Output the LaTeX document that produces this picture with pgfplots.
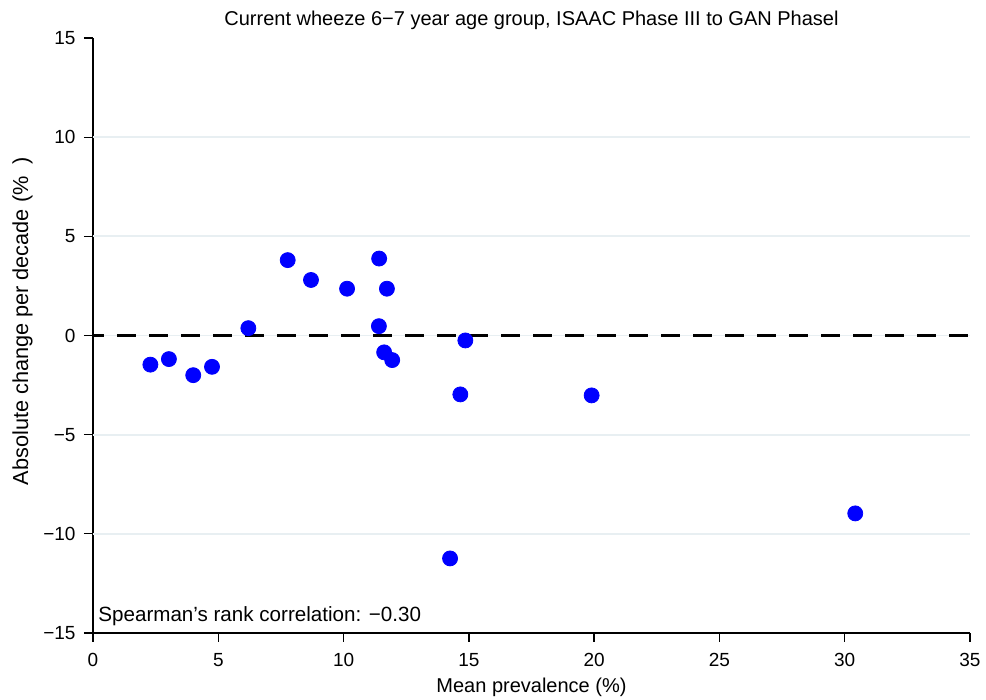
\documentclass[border=0pt]{standalone}
\usepackage{fontspec}
\setmainfont{Liberation Sans}
\usepackage{pgfplots}
\pgfplotsset{compat=1.18}
\definecolor{gridc}{RGB}{232,239,242}
\begin{document}
\begin{tikzpicture}
\path[use as bounding box] (-46.5pt,-33.5pt) rectangle (446.5pt,316.5pt);
\begin{axis}[
  at={(0,0)}, anchor=south west, scale only axis,
  width=438.5pt, height=297.5pt,
  xmin=0, xmax=35, ymin=-15, ymax=15,
  axis lines=left,
  axis line style={-, black, line width=0.65pt},
  xtick={0,5,...,35}, xticklabels={0,5,10,15,20,25,30,35},
  ytick={-15,-10,...,15}, yticklabels={−15,−10,−5,0,5,10,15},
  tick align=outside, major tick length=4.5pt,
  tick style={black, line width=0.65pt},
  xticklabel style={font=\fontsize{9.5}{11}\selectfont, yshift=-2pt},
  yticklabel style={font=\fontsize{9.5}{11}\selectfont, xshift=-0.7pt},
  extra y ticks={-10,-5,0,5,10},
  extra y tick labels={},
  extra y tick style={grid=major, major tick length=0pt,
     major grid style={gridc, line width=0.9pt}},
  title={Current wheeze 6−7 year age group, ISAAC Phase III to GAN Phasel},
  title style={at={(axis description cs:0.5,1)}, anchor=base, font=\fontsize{10}{12}\selectfont},
  xlabel={Mean prevalence (\%)},
  xlabel style={at={(axis description cs:0.5,-0.0992)}, anchor=base, font=\fontsize{10}{12}\selectfont},
  ylabel={Absolute change per decade (\%\hspace{0.55em})},
  ylabel style={at={(axis description cs:-0.0741,0.524)}, anchor=base, font=\fontsize{10.85}{12}\selectfont},
  clip=false,
]
\addplot[black, line width=1.1pt, dash pattern=on 9.5pt off 6.5pt, dash phase=4pt] coordinates {(0,0) (35,0)};
\addplot[only marks, mark=*, mark size=3.75pt, color=blue, mark options={draw=blue, fill=blue}] table {
x y
2.29 -1.47
3.03 -1.19
4.00 -2.00
4.75 -1.58
6.20 0.37
7.77 3.80
8.70 2.80
10.14 2.36
11.42 3.88
11.73 2.36
11.41 0.47
11.62 -0.85
11.94 -1.24
14.86 -0.25
14.66 -2.97
19.90 -3.02
30.42 -8.97
14.25 -11.24
};
\node[anchor=base west, inner sep=0pt, font=\fontsize{10.3}{12}\selectfont] at (axis description cs:0.0057,0.0185) {Spearman’s rank correlation: −0.30};
\end{axis}
\end{tikzpicture}
\end{document}
